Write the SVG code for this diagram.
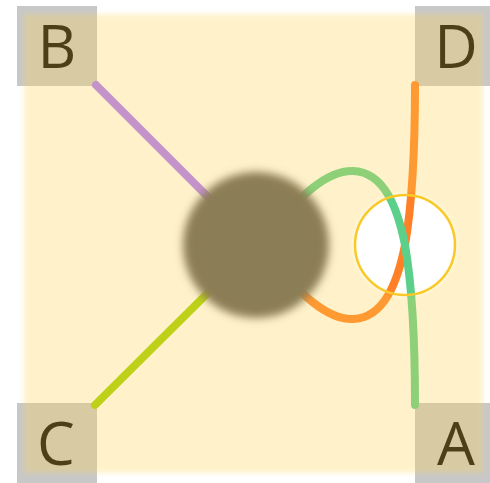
<svg xmlns="http://www.w3.org/2000/svg" width="490" height="483" viewBox="0 0 490 483">
<style>
.box{fill:#c8c8c8}
.lbl{font-family:"Open Sans","DejaVu Sans",sans-serif;font-size:60px;fill:#000;text-anchor:middle}
.edge{fill:none;stroke-width:8;stroke-linecap:round}
</style>
<defs>
<filter id="soft" x="-5%" y="-5%" width="110%" height="110%"><feGaussianBlur stdDeviation="2.5"/></filter>
<filter id="nodeBlur" x="-20%" y="-20%" width="140%" height="140%"><feGaussianBlur stdDeviation="4"/></filter>
<filter id="holeBlur" x="-20%" y="-20%" width="140%" height="140%"><feGaussianBlur stdDeviation="2"/></filter>
<mask id="hole" maskUnits="userSpaceOnUse" x="0" y="0" width="490" height="483">
<rect width="490" height="483" fill="#fff"/>
<circle cx="405" cy="245" r="51" fill="#000" filter="url(#holeBlur)"/>
</mask>
</defs>
<rect width="490" height="483" fill="#fff"/>
<g id="node-B"><rect class="box" x="17" y="6" width="80" height="80"/><text class="lbl" x="57" y="68">B</text></g>
<g id="node-D"><rect class="box" x="415" y="6" width="80" height="80"/><text class="lbl" x="456" y="68">D</text></g>
<g id="node-C"><rect class="box" x="17" y="403" width="80" height="80"/><text class="lbl" x="56" y="465">C</text></g>
<g id="node-A"><rect class="box" x="415" y="403" width="80" height="80"/><text class="lbl" x="456" y="465">A</text></g>
<g id="edges">
<line class="edge" x1="96" y1="85" x2="256" y2="245" stroke="#ab78ff"/>
<line class="edge" x1="95" y1="405" x2="256" y2="245" stroke="#a2d000"/>
<path class="edge" stroke="#ff8026" d="M256,245 C290,280 320,320 353,319 C385,318 398,280 405,245 C412,205 415,160 415,85"/>
<path class="edge" stroke="#5ccf8a" d="M256,245 C290,210 320,170 353,171 C385,172 398,210 405,245 C412,285 415,330 415,405"/>
</g>
<g id="node-center"><circle cx="256" cy="245" r="73" fill="#5a5858" filter="url(#nodeBlur)"/></g>
<g id="overlay" mask="url(#hole)"><rect x="24" y="14" width="459" height="459" fill="#ffd54f" fill-opacity="0.3" filter="url(#soft)"/></g>
<g id="waypoint"><circle cx="405" cy="245" r="50" fill="none" stroke="#f9c928" stroke-width="2.5"/></g>
</svg>
